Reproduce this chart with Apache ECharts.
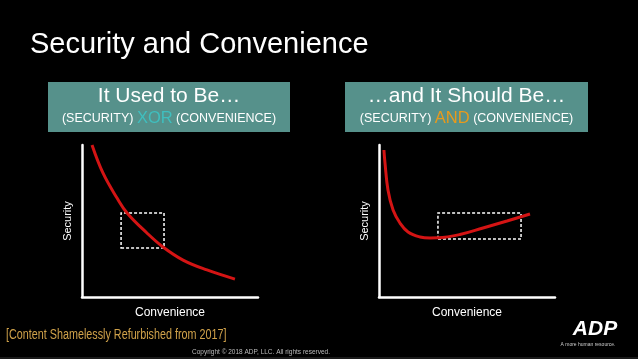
<!DOCTYPE html>
<html><head><meta charset="utf-8">
<script src="https://cdn.jsdelivr.net/npm/echarts@6/dist/echarts.min.js"></script>
<style>html,body{margin:0;padding:0;background:#000;}#c{width:638px;height:359px;}</style>
</head><body><div id="c"></div>
<script>
// Data (arbitrary 0-10 units)
const xorCurveX = [0.57, 1.19, 1.99, 2.56, 3.69, 4.60, 5.74, 7.10, 8.69];
const xorCurveY = [10.0, 8.16, 6.51, 5.53, 4.21, 3.29, 2.43, 1.78, 1.18];
const xorBoxX = [2.22, 4.66];
const xorBoxY = [3.22, 5.53];

const andCurveX = [0.28, 0.34, 0.51, 0.80, 1.19, 1.65, 2.33, 2.90, 3.35, 4.60, 5.91, 7.27, 8.58];
const andCurveY = [9.67, 8.82, 7.04, 5.72, 4.87, 4.28, 3.95, 3.88, 3.89, 4.11, 4.54, 5.00, 5.46];
const andBoxX = [3.35, 8.07];
const andBoxY = [3.82, 5.53];

const xAxisName = 'Convenience';
const yAxisName = 'Security';

const chart = echarts.init(document.getElementById('c'));
const FONT = '"Liberation Sans", Arial, Helvetica, sans-serif';
const zip = (a, b) => a.map((v, i) => [v, b[i]]);

function axisPair(idx) {
  const axisLine = {show: true, onZero: false, lineStyle: {color: '#fff', width: 2.5}};
  return {
    x: {type: 'value', gridIndex: idx, min: 0, max: 10, axisLine, axisTick: {show: false},
        axisLabel: {show: false}, splitLine: {show: false},
        name: xAxisName, nameLocation: 'middle', nameGap: 10,
        nameTextStyle: {color: '#fff', fontSize: 12, fontFamily: FONT}},
    y: {type: 'value', gridIndex: idx, min: 0, max: 10, axisLine, axisTick: {show: false},
        axisLabel: {show: false}, splitLine: {show: false},
        name: yAxisName, nameLocation: 'middle', nameGap: 9,
        nameTextStyle: {color: '#fff', fontSize: 11, fontFamily: FONT}}
  };
}
const a0 = axisPair(0), a1 = axisPair(1);

function curve(idx, xs, ys, bx, by) {
  return {
    type: 'line', xAxisIndex: idx, yAxisIndex: idx, data: zip(xs, ys),
    smooth: 0.4, showSymbol: false, symbol: 'none', silent: true,
    lineStyle: {color: '#d41414', width: 3},
    markArea: {silent: true,
      itemStyle: {color: 'rgba(0,0,0,0)', borderColor: '#ffffff', borderWidth: 1.5, borderType: [3, 2], opacity: 1},
      data: [[{coord: [bx[0], by[0]]}, {coord: [bx[1], by[1]]}]]},
    z: 3
  };
}

function header(x, y, w, h, title, word, wordColor) {
  return [
    {type: 'rect', shape: {x, y, width: w, height: h}, style: {fill: '#56918b'}},
    {type: 'text', style: {text: title, x: x + w / 2, y: y + 25, textAlign: 'center', textVerticalAlign: 'bottom',
      fill: '#fff', font: '21px ' + FONT}},
    {type: 'text', style: {
      text: '{s|(SECURITY) }{w|' + word + '}{s| (CONVENIENCE)}',
      x: x + w / 2, y: y + 45, textAlign: 'center', textVerticalAlign: 'bottom',
      rich: {s: {fill: '#fff', fontSize: 12.5, fontFamily: FONT},
             w: {fill: wordColor, fontSize: 16.5, fontFamily: FONT}}}}
  ];
}

chart.setOption({
  backgroundColor: '#000',
  animation: false,
  grid: [
    {left: 82, top: 145, width: 176, height: 152},
    {left: 379, top: 145, width: 176, height: 152}
  ],
  xAxis: [a0.x, a1.x],
  yAxis: [a0.y, a1.y],
  series: [
    curve(0, xorCurveX, xorCurveY, xorBoxX, xorBoxY),
    curve(1, andCurveX, andCurveY, andBoxX, andBoxY)
  ],
  graphic: [
    {type: 'text', style: {text: 'Security and Convenience', x: 30, y: 45, textVerticalAlign: 'middle',
      fill: '#fff', font: '29px ' + FONT}},
    ...header(48, 82, 242, 50, 'It Used to Be\u2026', 'XOR', '#3fbfbf'),
    ...header(345, 82, 243, 50, '\u2026and It Should Be\u2026', 'AND', '#e89a1c'),
    {type: 'text', x: 6, y: 342, scaleX: 0.77, style: {text: '[Content Shamelessly Refurbished from 2017]',
      x: 0, y: 0, textVerticalAlign: 'bottom', fill: '#d0a24a', font: '14px ' + FONT}},
    {type: 'text', style: {text: 'Copyright \u00a9 2018 ADP, LLC. All rights reserved.', x: 261, y: 352,
      textAlign: 'center', textVerticalAlign: 'middle', fill: '#bbbbbb', font: '6.5px ' + FONT}},
    {type: 'text', style: {text: 'ADP', x: 595, y: 340, textAlign: 'center', textVerticalAlign: 'bottom',
      fill: '#fff', font: 'italic bold 21px ' + FONT}},
    {type: 'text', style: {text: 'A more human resource.', x: 588, y: 345, textAlign: 'center',
      textVerticalAlign: 'middle', fill: '#cccccc', font: '5px ' + FONT}},
    {type: 'rect', shape: {x: 0, y: 357, width: 638, height: 2}, style: {fill: '#1a1a1a'}}
  ]
});
</script></body></html>
